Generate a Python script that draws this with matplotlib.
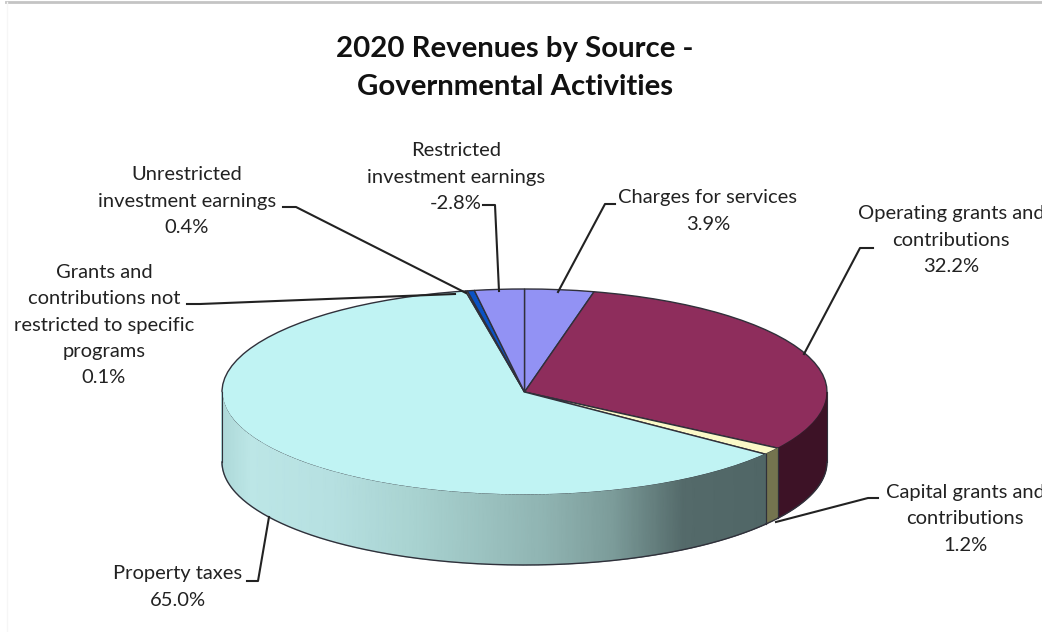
import numpy as np
import matplotlib
matplotlib.use("Agg")
import matplotlib.pyplot as plt
from matplotlib.colors import LinearSegmentedColormap

plt.rcParams['font.family'] = ['Lato', 'DejaVu Sans']

title = "2020 Revenues by Source -\nGovernmental Activities"
sources = ["Charges for services", "Operating grants and\ncontributions", "Capital grants and\ncontributions",
           "Property taxes", "Grants and\ncontributions not\nrestricted to specific\nprograms",
           "Unrestricted\ninvestment earnings", "Restricted\ninvestment earnings"]
percents = [3.9, 32.2, 1.2, 65.0, 0.1, 0.4, -2.8]
top_colors = ["#9292f4", "#8e2d5c", "#fbf9c8", "#c0f3f3", "#e8e8f8", "#0a52c4", "#9292f4"]
side_colors = ["#4a4a7a", "#3d1226", "#74744f", "#506666", "#707078", "#052a62", "#4a4a7a"]

W, H = 1042, 632
cx, cy, rx, ry, depth = 524.5, 392, 302.5, 103, 70

fig = plt.figure(figsize=(W / 100, H / 100), dpi=100)

# the pie axes is stretched so the circle comes out as a flat ellipse
pie_ax = fig.add_axes([0, 0, 1, 1])
sizes = np.abs(percents)
wedges, _ = pie_ax.pie(sizes, colors=top_colors, startangle=90, counterclock=False, radius=1,
                       wedgeprops={"edgecolor": "#30303a", "linewidth": 1.0})
pie_ax.set_aspect("auto")
pie_ax.set_xlim((0 - cx) / rx, (W - cx) / rx)
pie_ax.set_ylim((cy - H) / ry, cy / ry)
drop = depth / ry

# side wall, only the part facing front (90..270 deg clockwise from the top)
prop_cmap = LinearSegmentedColormap.from_list("wall", [(0.0, "#aed9d9"), (0.05, "#bce6e6"), (0.2, "#b6e0e1"),
                                                       (0.36, "#a8d2d0"), (0.6, "#8fb3b1"), (0.72, "#7c9c9a"),
                                                       (0.85, "#546a6a"), (1.0, "#506666")])
edges = np.cumsum(np.r_[0, sizes]) / sizes.sum() * 360
for i in range(len(sizes)):
    a0, a1 = max(edges[i], 90), min(edges[i + 1], 270)
    if a1 <= a0:
        continue
    t = np.radians(np.linspace(a0, a1, 200))
    x, y = np.sin(t), np.cos(t)
    if percents[i] == max(percents):
        # biggest slice gets the shaded wall
        mesh_x = np.vstack([x, x])
        mesh_y = np.vstack([y, y - drop])
        pie_ax.pcolormesh(mesh_x, mesh_y, mesh_x, shading="gouraud", cmap=prop_cmap, vmin=-1, vmax=x.max())
    else:
        pie_ax.fill(np.r_[x, x[::-1]], np.r_[y, y[::-1] - drop], color=side_colors[i], lw=0.5)
    pie_ax.plot(x, y - drop, color="#30303a", lw=1.0)
    pie_ax.plot([x[0], x[0]], [y[0], y[0] - drop], color="#30303a", lw=0.8)
    pie_ax.plot([x[-1], x[-1]], [y[-1], y[-1] - drop], color="#30303a", lw=0.8)
pie_ax.axis("off")

# overlay in image pixels for the texts and leader lines
ax = fig.add_axes([0, 0, 1, 1], facecolor="none")
ax.set_xlim(0, W)
ax.set_ylim(H, 0)
ax.axis("off")
ax.plot([6, W], [2, 2], color="#c4c4c4", lw=2)
ax.plot([6.5, 6.5], [2, H], color="#f6f6f6", lw=1)

ax.text(515, 68, title, ha="center", va="center", fontsize=21.2, fontweight="bold", color="#111111", linespacing=1.57)

label_pos = [(708, 211), (951, 240), (965, 519), (178, 587), (104, 325), (187, 201), (456, 177)]
leaders = [
    [(615, 204), (605, 204), (558, 292)],
    [(873, 248), (860, 248), (804, 354)],
    [(878, 498), (868, 498), (776, 522)],
    [(247, 581), (258, 581), (269, 517)],
    [(187, 304), (200, 304), (455, 294)],
    [(283, 207), (296, 207), (466, 293)],
    [(483, 205), (495, 205), (499, 291)],
]
for name, pct, (lx, ly), line in zip(sources, percents, label_pos, leaders):
    ax.text(lx, ly, f"{name}\n{pct:.1f}%", ha="center", va="center", fontsize=14.5, color="#222222", linespacing=1.67)
    ax.plot(*zip(*line), color="#222222", lw=1.5)

fig.savefig("out.png", dpi=100)
